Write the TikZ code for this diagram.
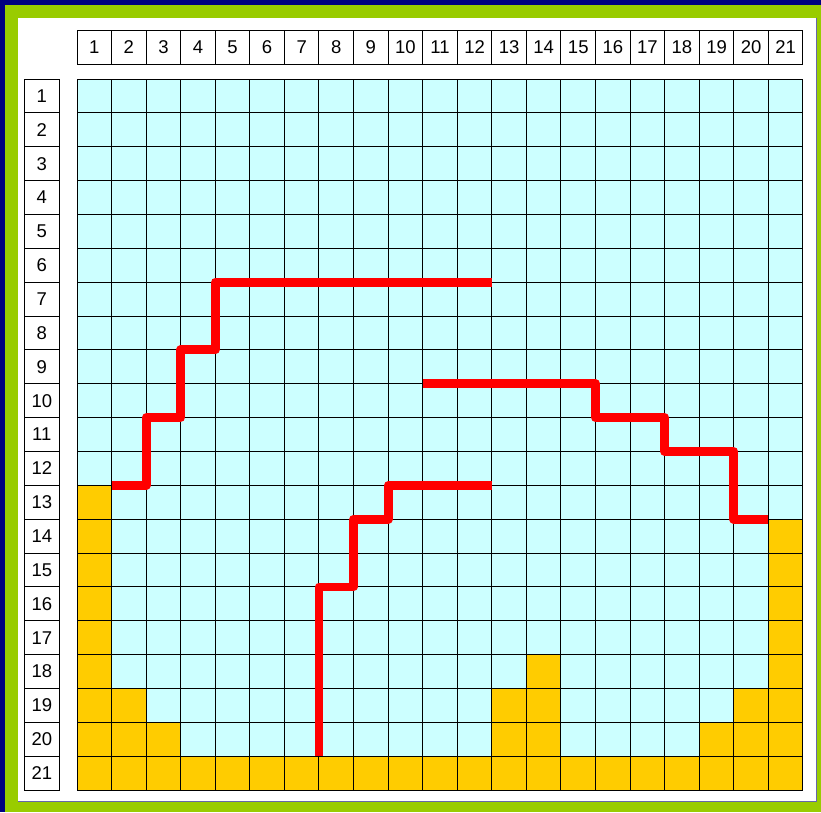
\documentclass[tikz,border=0pt]{standalone}
\usepackage{fontspec}
\setmainfont{Liberation Sans}
\definecolor{navyc}{HTML}{000080}
\definecolor{greenc}{HTML}{99CC00}
\definecolor{cyanc}{HTML}{CCFFFF}
\definecolor{yellowc}{HTML}{FFCC00}
\definecolor{redc}{HTML}{FF0000}
\definecolor{shadowc}{HTML}{6666AA}
\tikzset{
  hdr/.style={draw=black, line width=1pt, fill=white, inner sep=0pt,
    font=\fontsize{18.5}{18.5}\selectfont},
  colhdr/.style={hdr, minimum width=34.57pt, minimum height=34pt},
  rowhdr/.style={hdr, minimum width=35pt, minimum height=33.86pt},
  gridline/.style={draw=black, line width=1pt},
  yellowcell/.style={fill=yellowc},
  redpath/.style={draw=redc, line width=8.8pt, line join=round, line cap=butt}
}
\begin{document}
\begin{tikzpicture}[x=1pt,y=-1pt]
\useasboundingbox (0,0) rectangle (821,812);
\fill[navyc] (0,0) rectangle (821,812);
\fill[greenc] (5,5) rectangle (821,812);
\fill[white] (17.5,17.5) rectangle (816.5,801.5);
\draw[shadowc, line width=1pt] (816.5,17.5) -- (816.5,801.5) -- (17.5,801.5);
\begin{scope}[shift={(77,79)}, x=34.57pt, y=-33.86pt]
  % background cells
  \fill[cyanc] (0,0) rectangle (21,21);
  % yellow cells
  \fill[yellowcell] (0,12) rectangle (1,21);
  \fill[yellowcell] (1,18) rectangle (2,21);
  \fill[yellowcell] (2,19) rectangle (3,21);
  \fill[yellowcell] (0,20) rectangle (21,21);
  \fill[yellowcell] (12,18) rectangle (13,21);
  \fill[yellowcell] (13,17) rectangle (14,21);
  \fill[yellowcell] (18,19) rectangle (19,21);
  \fill[yellowcell] (19,18) rectangle (20,21);
  \fill[yellowcell] (20,13) rectangle (21,21);
  % grid lines
  \foreach \k in {0,...,21} {
    \draw[gridline] (\k,0) -- (\k,21);
    \draw[gridline] (0,\k) -- (21,\k);
  }
  % headers
  \foreach \i in {1,...,21} {
    \node[colhdr] (c\i) at (\i-0.5,-0.945) {\i};
    \node[rowhdr] (r\i) at (-1.018,\i-0.5) {\i};
  }
  % red paths
  \draw[redpath] (1,12) -- (2,12) -- (2,10) -- (3,10) -- (3,8) -- (4,8) -- (4,6) -- (12,6);
  \draw[redpath] (10,9) -- (15,9) -- (15,10) -- (17,10) -- (17,11) -- (19,11) -- (19,13) -- (20,13);
  \draw[redpath] (7,20) -- (7,15) -- (8,15) -- (8,13) -- (9,13) -- (9,12) -- (12,12);
\end{scope}
\end{tikzpicture}
\end{document}
